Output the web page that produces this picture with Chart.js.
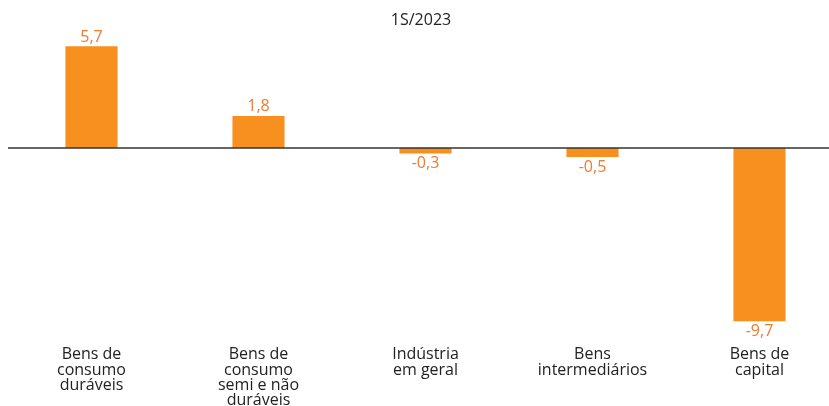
<!DOCTYPE html>
<html>
<head>
<meta charset="utf-8">
<script src="https://cdn.jsdelivr.net/npm/chart.js@4"></script>
<style>
  html, body { margin: 0; padding: 0; background: #fff; overflow: hidden; }
  #wrap { width: 843px; height: 406px; position: relative; }
</style>
</head>
<body>
<div id="wrap"><canvas id="chart"></canvas></div>
<script>
const categories = [
    ['Bens de', 'consumo', 'duráveis'],
    ['Bens de', 'consumo', 'semi e não', 'duráveis'],
    ['Indústria', 'em geral'],
    ['Bens', 'intermediários'],
    ['Bens de', 'capital']
];
const values = [5.7, 1.8, -0.3, -0.5, -9.7];
const chartTitle = '1S/2023';

const barColor = '#F7901E';
const labelColor = '#EE7B30';
const textFont = "'Open Sans', sans-serif";

// value labels, zero line and title
const decorations = {
    id: 'decorations',
    afterDatasetsDraw(chart) {
        const ctx = chart.ctx;
        const y0 = chart.scales.y.getPixelForValue(0);
        ctx.save();
        ctx.strokeStyle = '#333333';
        ctx.lineWidth = 1.5;
        ctx.beginPath();
        ctx.moveTo(8, y0);
        ctx.lineTo(chart.width, y0);
        ctx.stroke();

        ctx.font = '16px ' + textFont;
        ctx.fillStyle = labelColor;
        ctx.textAlign = 'center';
        chart.getDatasetMeta(0).data.forEach((bar, i) => {
            const v = values[i];
            const txt = v.toFixed(1).replace('.', ',');
            if (v >= 0) {
                ctx.textBaseline = 'bottom';
                ctx.fillText(txt, bar.x, bar.y - 1);
            } else {
                ctx.textBaseline = 'top';
                ctx.fillText(txt, bar.x, bar.y + 2);
            }
        });

        ctx.font = '16px ' + textFont;
        ctx.fillStyle = '#222222';
        ctx.textBaseline = 'middle';
        ctx.fillText(chartTitle, 421, 20);
        ctx.restore();
    }
};

const ctx = document.getElementById('chart').getContext('2d');
new Chart(ctx, {
    type: 'bar',
    data: {
        labels: categories,
        datasets: [{
            data: values,
            backgroundColor: barColor,
            borderWidth: 0,
            barPercentage: 0.312,
            categoryPercentage: 1
        }]
    },
    options: {
        responsive: true,
        maintainAspectRatio: false,
        animation: false,
        layout: {
            padding: { left: 8, right: 0, top: 23, bottom: -10 }
        },
        plugins: {
            legend: { display: false },
            tooltip: { enabled: false }
        },
        scales: {
            y: {
                display: false,
                min: -10.7,
                max: 7
            },
            x: {
                grid: { display: false, drawTicks: false },
                border: { display: false },
                ticks: {
                    color: '#222222',
                    padding: 8,
                    maxRotation: 0,
                    autoSkip: false,
                    font: { family: textFont, size: 16, lineHeight: 0.95 }
                }
            }
        }
    },
    plugins: [decorations]
});
</script>
</body>
</html>
